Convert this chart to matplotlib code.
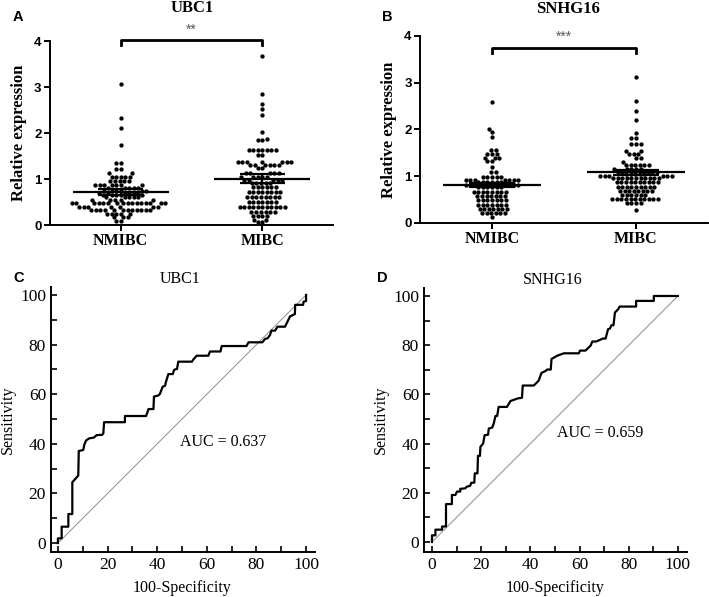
import numpy as np
import pandas as pd
import matplotlib
matplotlib.use("Agg")
import matplotlib.pyplot as plt
import seaborn as sns
from matplotlib.ticker import MultipleLocator

SERIF = "Liberation Serif"
SANS = "Liberation Sans"

groups = ["NMIBC", "MIBC"]

# scatter data read as rows (value, number of dots in the row)
ubc1_nmibc_rows = [3.07, 2.32, 2.11, 1.73, 1.35, 1.22, 1.12, 1.04, 0.95, 0.86,
                   0.80, 0.75, 0.70, 0.65, 0.60, 0.55, 0.47, 0.40, 0.33, 0.25, 0.17, 0.09]
ubc1_nmibc_counts = [1, 1, 1, 1, 2, 2, 2, 5, 5, 7,
                     5, 6, 6, 5, 5, 5, 16, 7, 12, 5, 3, 2]
ubc1_mibc_rows = [3.68, 2.85, 2.62, 2.52, 2.40, 2.02, 1.87, 1.84, 1.62, 1.52, 1.36, 1.30, 1.23,
                  1.12, 1.05, 0.98, 0.91, 0.82, 0.72, 0.60, 0.51, 0.40, 0.29, 0.20, 0.11, 0.06]
ubc1_mibc_counts = [1, 1, 1, 1, 1, 1, 1, 2, 7, 2, 7, 6, 2,
                    5, 5, 5, 5, 6, 8, 8, 7, 11, 6, 4, 2, 2]
snhg16_nmibc_rows = [2.59, 2.02, 1.95, 1.83, 1.57, 1.48, 1.40, 1.33, 1.20, 1.08, 0.99,
                     0.92, 0.87, 0.82, 0.77, 0.67, 0.58, 0.49, 0.39, 0.29, 0.21, 0.12]
snhg16_nmibc_counts = [1, 1, 1, 1, 2, 3, 3, 2, 1, 2, 5,
                       7, 6, 7, 6, 8, 7, 7, 7, 7, 6, 1]
snhg16_mibc_rows = [3.12, 2.62, 2.40, 2.21, 1.93, 1.81, 1.69, 1.55, 1.48, 1.40, 1.31, 1.24,
                    1.15, 1.10, 1.05, 1.00, 0.96, 0.87, 0.78, 0.68, 0.60, 0.51, 0.42, 0.28]
snhg16_mibc_counts = [1, 1, 1, 1, 1, 2, 3, 2, 3, 2, 1, 6,
                      5, 5, 5, 6, 11, 10, 9, 8, 6, 11, 4, 1]

# mean and SEM shown on the scatter plots
ubc1_mean = [0.72, 1.01]
ubc1_sem = [0.07, 0.095]
snhg16_mean = [0.81, 1.08]
snhg16_sem = [0.05, 0.06]

# ROC curves (100-specificity, sensitivity)
ubc1_fpr = [0, 0, 1.5, 1.5, 4.2, 4.2, 5.8, 5.8, 8.2, 8.4, 10.2, 10.6, 11.3, 12.6, 14.5, 15.6,
            17.8, 18.3, 18.6, 27, 27, 35.5, 36, 36.5, 38.5, 38.7, 40.5, 41.1, 42.2, 43.2, 43.4,
            44.5, 46.3, 46.8, 48, 48.5, 54.0, 54.6, 55.9, 60.6, 61.3, 65.5, 66, 76, 76.8, 82.4,
            83.5, 84.5, 85.5, 86, 87.5, 88.5, 91.5, 92.5, 93.5, 95.5, 95.6, 98.8, 99, 100, 100]
ubc1_tpr = [0, 1.9, 1.9, 6.6, 6.6, 11.7, 11.7, 24.5, 27.2, 37.1, 37.5, 39.5, 41.3, 42.2, 42.5, 43.5,
            43.6, 44.2, 48.7, 48.7, 51.2, 51.2, 52.5, 54, 54, 59, 59.5, 60.1, 63, 63.4, 64.5,
            68.1, 68.1, 69.8, 70.2, 73.1, 73.1, 74, 75.5, 75.5, 77.2, 77.2, 79.4, 79.4, 80.9, 80.9,
            82.3, 82.5, 83.9, 85.6, 85.6, 87.2, 87.2, 89.2, 91.3, 92.3, 96, 96, 97.3, 97.5, 100]
snhg16_fpr = [0, 0, 1.4, 1.4, 4.1, 4.1, 5.7, 5.7, 8.1, 8.1, 9.5, 10.2, 11.5, 11.5, 13.5, 14.2,
              15.5, 16, 17.2, 17.4, 18.5, 18.7, 19.5, 19.7, 20.8, 21.4, 22.8, 23.1, 24.5, 25.1,
              25.8, 26.5, 27.1, 30.5, 31.9, 35, 36.6, 36.9, 41.4, 43.4, 44.5, 46.3, 46.8, 48.3,
              48.6, 50.9, 53.6, 59.7, 60.2, 62.4, 64.5, 65.2, 66.8, 69.5, 70.6, 71.6, 72.3, 73,
              73.8, 74.4, 75.7, 76.3, 83, 83, 90.2, 90.2, 100]
snhg16_tpr = [0, 2.7, 2.7, 5, 5, 6.3, 6.3, 15.4, 15.4, 19.1, 19.1, 20.5, 20.5, 21.6, 21.8, 22.5,
              22.8, 24.1, 24.1, 27.9, 27.9, 35, 35, 38.7, 40, 43.4, 43.6, 46.1, 46.5, 48.1,
              51.2, 51.2, 54.9, 54.9, 57.3, 58.4, 58.6, 63.6, 63.6, 65.6, 68.7, 69.6, 70.1, 70.1,
              74.4, 75.7, 76.7, 76.7, 77.8, 77.8, 79.8, 81.5, 81.5, 82.7, 82.7, 86.5, 86.7, 88.1,
              88.1, 93.3, 94.6, 95.7, 95.7, 98, 98, 100, 100]
ubc1_auc = "AUC = 0.637"
snhg16_auc = "AUC = 0.659"

fig = plt.figure(figsize=(7.09, 5.97), dpi=100)


def scatter_panel(ax, nmibc_rows, nmibc_counts, mibc_rows, mibc_counts, mean, sem,
                  stars, bracket_y, star_y):
    nmibc = np.repeat(nmibc_rows, nmibc_counts)
    mibc = np.repeat(mibc_rows, mibc_counts)
    df = pd.DataFrame({"group": ["NMIBC"] * len(nmibc) + ["MIBC"] * len(mibc),
                       "value": np.concatenate([nmibc, mibc])})
    sns.swarmplot(data=df, x="group", y="value", order=groups, color="black",
                  size=3.1, linewidth=0, ax=ax, zorder=2)
    for i in range(2):
        ax.hlines(mean[i], i - 0.34, i + 0.34, color="black", lw=1.6, zorder=3)
        ax.hlines([mean[i] - sem[i], mean[i] + sem[i]], i - 0.16, i + 0.16,
                  color="black", lw=1.6, zorder=3)
        ax.vlines(i, mean[i] - sem[i], mean[i] + sem[i], color="black", lw=1.6, zorder=3)
    # significance bracket
    ax.plot([0, 0, 1, 1], [bracket_y - 0.11, bracket_y, bracket_y, bracket_y - 0.11],
            color="black", lw=2, clip_on=False)
    ax.text(0.5, star_y, stars, ha="center", va="center", fontsize=10, color="0.35",
            fontfamily=SANS, clip_on=False)
    ax.set_xlim(-0.5, 1.5)
    ax.set_ylim(0, 4)
    ax.set_yticks([0, 1, 2, 3, 4], labels=["0", "1", "2", "3", "4"],
                  fontfamily=SANS, fontweight="bold", fontsize=9.5)
    ax.set_xticks([0, 1], labels=groups, fontfamily=SERIF, fontweight="bold", fontsize=11.5)
    ax.set_xlabel("")
    ax.set_ylabel("")
    for s in ["top", "right"]:
        ax.spines[s].set_visible(False)
    for s in ["left", "bottom"]:
        ax.spines[s].set_linewidth(1.4)
    ax.tick_params(direction="out", length=4, width=1.4, pad=2)
    ax.text(-0.108, 0.5, "Relative expression", transform=ax.transAxes, rotation=90,
            ha="center", va="center", fontfamily=SERIF, fontweight="bold", fontsize=12)


def roc_panel(ax, fpr, tpr, auc_text, auc_xy, title):
    ax.plot([0, 100], [0, 100], color="0.55", lw=0.7)
    ax.plot(fpr, tpr, color="black", lw=1.6)
    ax.text(auc_xy[0], auc_xy[1], auc_text, ha="left", va="center",
            fontfamily=SERIF, fontsize=11.5)
    ax.text(0.49, 1.0, title, transform=ax.transAxes, ha="center", va="bottom",
            fontfamily=SERIF, fontsize=11.5)
    ax.xaxis.set_major_locator(MultipleLocator(20))
    ax.xaxis.set_minor_locator(MultipleLocator(10))
    ax.yaxis.set_major_locator(MultipleLocator(20))
    ax.yaxis.set_minor_locator(MultipleLocator(10))
    for lab in ax.get_xticklabels() + ax.get_yticklabels():
        lab.set_fontfamily(SERIF)
    ax.tick_params(which="both", direction="in", length=4, width=1.2, labelsize=12.5)
    for s in ["top", "right"]:
        ax.spines[s].set_visible(False)
    for s in ["left", "bottom"]:
        ax.spines[s].set_linewidth(1.4)
    ax.text(-0.163, 0.5, "Sensitivity", transform=ax.transAxes, rotation=90,
            ha="center", va="center", fontfamily=SERIF, fontsize=11.5)
    ax.text(0.497, -0.136, "100-Specificity", transform=ax.transAxes,
            ha="center", va="center", fontfamily=SERIF, fontsize=11.5)


ax_a = fig.add_axes([0.0705, 0.6231, 0.3992, 0.3082])
scatter_panel(ax_a, ubc1_nmibc_rows, ubc1_nmibc_counts, ubc1_mibc_rows, ubc1_mibc_counts,
              ubc1_mean, ubc1_sem, "**", 4.03, 4.25)
ax_b = fig.add_axes([0.5924, 0.6265, 0.4062, 0.3132])
scatter_panel(ax_b, snhg16_nmibc_rows, snhg16_nmibc_counts, snhg16_mibc_rows, snhg16_mibc_counts,
              snhg16_mean, snhg16_sem, "***", 3.74, 3.99)

ax_c = fig.add_axes([0.0719, 0.0754, 0.3724, 0.4439])
ax_c.set_xlim(-2.8, 103.6)
ax_c.set_ylim(-3.6, 103.2)
roc_panel(ax_c, ubc1_fpr, ubc1_tpr, ubc1_auc, (49, 40.7), "UBC1")
ax_d = fig.add_axes([0.598, 0.0754, 0.371, 0.4422])
ax_d.set_xlim(-3.25, 103.7)
ax_d.set_ylim(-4.07, 103.25)
roc_panel(ax_d, snhg16_fpr, snhg16_tpr, snhg16_auc, (51, 44.3), "SNHG16")

fig.text(0.2708, 0.9866, "UBC1", ha="center", va="center", fontfamily=SERIF,
         fontweight="bold", fontsize=12)
fig.text(0.801, 0.985, "SNHG16", ha="center", va="center", fontfamily=SERIF,
         fontweight="bold", fontsize=12)
for letter, x, y in [("A", 0.0254, 0.9715), ("B", 0.5458, 0.9715),
                     ("C", 0.0268, 0.5343), ("D", 0.5388, 0.5343)]:
    fig.text(x, y, letter, ha="center", va="center", fontfamily=SANS,
             fontweight="bold", fontsize=10.5)

fig.savefig("out.png", dpi=100)
